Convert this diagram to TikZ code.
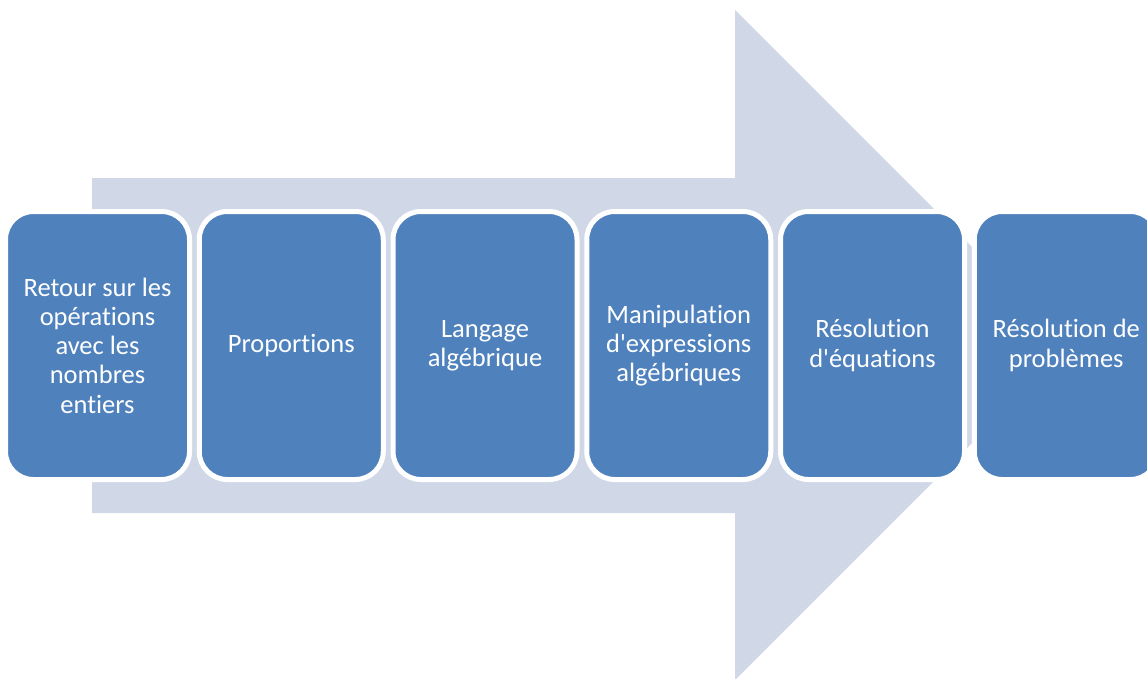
\documentclass[tikz,border=0pt]{standalone}
\usepackage{fontspec}
\newfontfamily\stepfont{Carlito}[Ligatures=NoCommon]
\definecolor{arrowfill}{HTML}{D0D8E8}
\definecolor{stepfill}{HTML}{4F81BD}
\begin{document}
\begin{tikzpicture}[x=1pt,y=-1pt,
  stepbox/.style={draw=white, line width=5pt, fill=stepfill, rounded corners=28pt,
    minimum width=184pt, minimum height=268pt, inner sep=0pt,
    text=white, align=center, font=\stepfont\fontsize{26.5}{29.3}\selectfont},
  bigarrow/.style={fill=arrowfill, draw=none}]
  \useasboundingbox (0,0) rectangle (1147,679);
  \clip (0,0) rectangle (1147,679);
  % background arrow
  \fill[bigarrow] (92,178) -- (735,178) -- (735,10) -- (1070,345)
     -- (735,680) -- (735,513) -- (92,513) -- cycle;
  % process steps
  \node[stepbox] (s1) at (97.5,345.5) {Retour sur les\\opérations\\avec les\\nombres\\entiers};
  \node[stepbox] (s2) at (291.25,345.5) {Proportions};
  \node[stepbox] (s3) at (485,345.5) {Langage\\algébrique};
  \node[stepbox] (s4) at (678.75,345.5) {Manipulation\\d'expressions\\algébriques};
  \node[stepbox] (s5) at (872.5,345.5) {Résolution\\d'équations};
  \node[stepbox] (s6) at (1066.25,345.5) {Résolution de\\problèmes};
\end{tikzpicture}
\end{document}
